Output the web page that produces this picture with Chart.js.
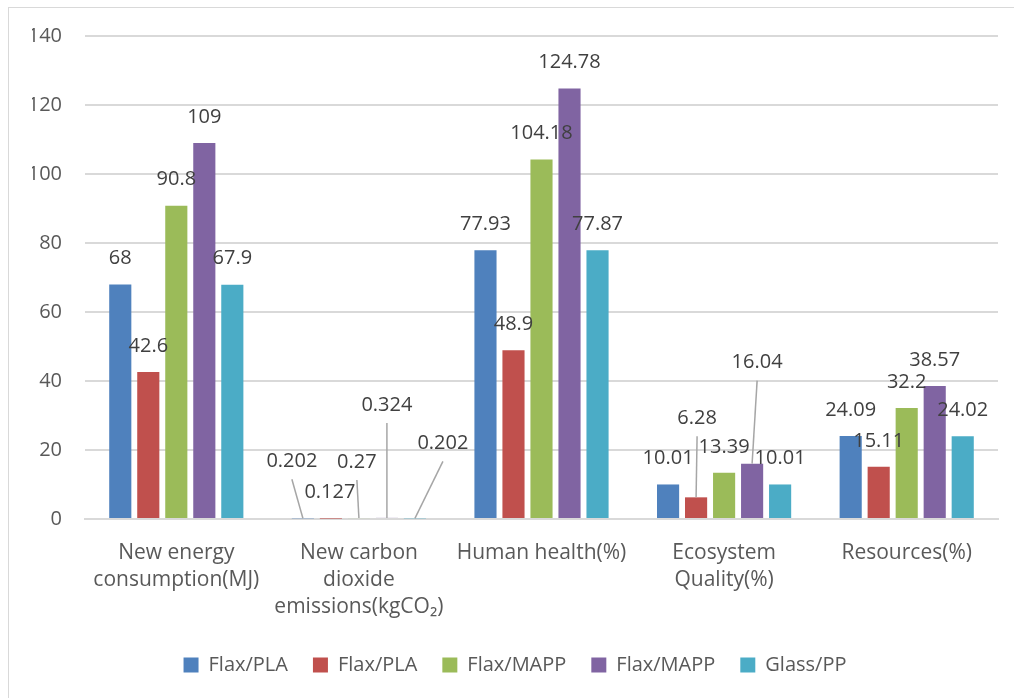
<!DOCTYPE html>
<html>
<head>
<meta charset="utf-8">
<script src="https://cdn.jsdelivr.net/npm/chart.js@4.4.1/dist/chart.umd.min.js"></script>
<style>
  html, body { margin: 0; padding: 0; background: #fff; }
  #wrap { width: 1014px; height: 698px; }
</style>
</head>
<body>
<div id="wrap"><canvas id="lcaChart" width="1014" height="698"></canvas></div>
<script>
const categories = [
  ["New energy", "consumption(MJ)"],
  ["New carbon", "dioxide", "emissions(kgCO\u2082)"],
  "Human health(%)",
  ["Ecosystem", "Quality(%)"],
  "Resources(%)"
];
const seriesNames = ["Flax/PLA", "Flax/PLA", "Flax/MAPP", "Flax/MAPP", "Glass/PP"];
const flaxPla1  = [68,   0.202, 77.93,  10.01, 24.09];
const flaxPla2  = [42.6, 0.127, 48.9,   6.28,  15.11];
const flaxMapp1 = [90.8, 0.27,  104.18, 13.39, 32.2];
const flaxMapp2 = [109,  0.324, 124.78, 16.04, 38.57];
const glassPp   = [67.9, 0.202, 77.87,  10.01, 24.02];
const yTicks = [0, 20, 40, 60, 80, 100, 120, 140];

const colors = ["#4F81BD", "#C0504D", "#9BBB59", "#8064A2", "#4BACC6"];
const seriesValues = [flaxPla1, flaxPla2, flaxMapp1, flaxMapp2, glassPp];
const FONT = "'Open Sans'";

// label nudges (px) for labels Excel moved off the bar, keyed "dataset-index"
const labelShift = {
  "0-1": { dx: -11, dy: -31, line: true },
  "1-1": { dx: -1, dy: 0 },
  "2-1": { dx: -2, dy: -30, line: true },
  "3-1": { dx: 0, dy: -87, line: true },
  "4-1": { dx: 28, dy: -49, line: true },
  "1-3": { dx: 1, dy: -53, line: true },
  "3-3": { dx: 5, dy: -75, line: true }
};

const borderPlugin = {
  id: 'frame',
  beforeDraw(chart) {
    const c = chart.ctx;
    c.save();
    c.strokeStyle = '#d9d9d9';
    c.lineWidth = 1;
    c.strokeRect(8.5, 7.5, 1200, 900);
    c.restore();
  }
};

const valueLabels = {
  id: 'valueLabels',
  afterDatasetsDraw(chart) {
    const c = chart.ctx;
    c.save();
    c.font = '20px ' + FONT;
    c.textAlign = 'center';
    c.textBaseline = 'middle';
    chart.data.datasets.forEach((ds, di) => {
      chart.getDatasetMeta(di).data.forEach((bar, i) => {
        const s = labelShift[di + '-' + i] || { dx: 0, dy: 0 };
        const lx = bar.x + s.dx;
        const ly = bar.y - 26 + s.dy;
        if (s.line) {
          c.strokeStyle = '#a6a6a6';
          c.lineWidth = 1.5;
          c.beginPath();
          c.moveTo(lx, ly + 18);
          c.lineTo(bar.x, bar.y);
          c.stroke();
        }
        c.fillStyle = '#404040';
        c.fillText(String(ds.data[i]), lx, ly);
      });
    });
    c.restore();
  }
};

const ctx = document.getElementById('lcaChart').getContext('2d');
const chart = new Chart(ctx, {
  type: 'bar',
  data: {
    labels: categories,
    datasets: seriesNames.map((name, k) => ({
      label: name,
      data: seriesValues[k],
      backgroundColor: colors[k],
      borderWidth: 0,
      categoryPercentage: 0.767,
      barPercentage: 0.79
    }))
  },
  options: {
    responsive: false,
    animation: false,
    layout: { padding: { left: 32, right: 16, top: 36, bottom: 13 } },
    plugins: {
      tooltip: { enabled: false },
      legend: {
        position: 'bottom',
        labels: {
          boxWidth: 15,
          boxHeight: 15,
          padding: 25,
          color: '#595959',
          font: { family: FONT, size: 20 }
        }
      }
    },
    scales: {
      x: {
        grid: { display: false },
        border: { color: '#d9d9d9', width: 2 },
        ticks: {
          color: '#595959',
          padding: 13,
          maxRotation: 0,
          autoSkip: false,
          font: { family: FONT, size: 21, lineHeight: '27px' }
        },
        afterFit(scale) { scale.height = 111; }
      },
      y: {
        min: 0,
        max: 140,
        afterBuildTicks(scale) { scale.ticks = yTicks.map(v => ({ value: v })); },
        afterFit(scale) { scale.width = 53; },
        border: { display: false },
        grid: { color: '#d9d9d9', lineWidth: 2, drawTicks: false },
        ticks: {
          color: '#595959',
          padding: 23,
          font: { family: FONT, size: 20 }
        }
      }
    }
  },
  plugins: [borderPlugin, valueLabels]
});

window.chart = chart;
</script>
</body>
</html>
